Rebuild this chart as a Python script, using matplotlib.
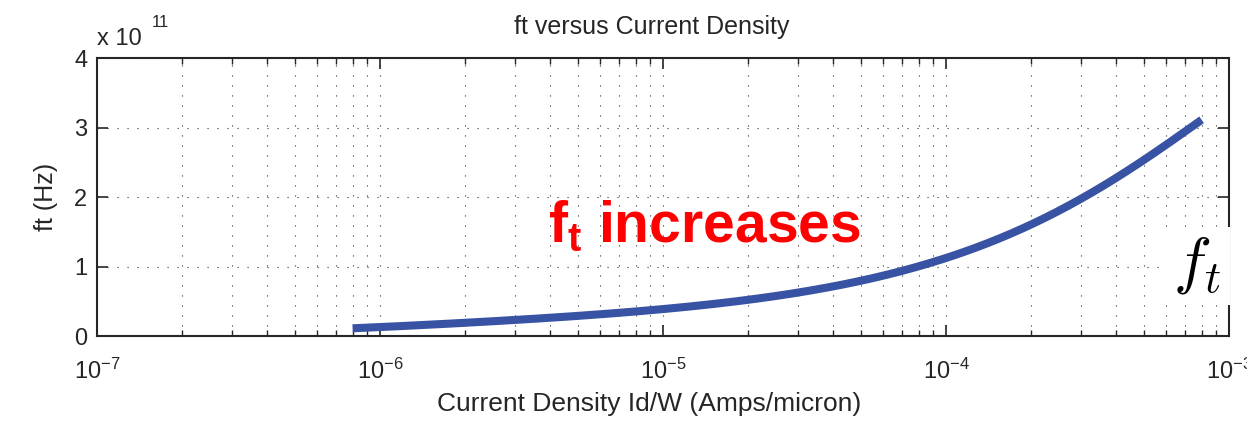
import matplotlib
matplotlib.use('Agg')
import numpy as np
import matplotlib.pyplot as plt
from matplotlib.ticker import LogLocator, FuncFormatter, NullFormatter
from numpy.polynomial import polynomial as P

plt.rcParams['font.family'] = ['Liberation Sans', 'DejaVu Sans']
plt.rcParams['mathtext.fontset'] = 'custom'
plt.rcParams['mathtext.rm'] = 'Liberation Sans'
plt.rcParams['mathtext.bf'] = 'Liberation Sans:bold'
plt.rcParams['mathtext.it'] = 'Liberation Sans:italic'
plt.rcParams['axes.unicode_minus'] = True

# current density (A/micron) and ft (Hz)
current_density = [8e-7, 1e-6, 2e-6, 5e-6, 1e-5, 2e-5, 3e-5, 5e-5,
                   1e-4, 2e-4, 3e-4, 5e-4, 8e-4]
ft_hz = [0.11e11, 0.13e11, 0.19e11, 0.29e11, 0.38e11, 0.52e11, 0.64e11,
         0.82e11, 1.06e11, 1.63e11, 1.96e11, 2.60e11, 3.07e11]

# smooth fit through the read points (log x, log y)
lx = np.log10(current_density)
coef = P.polyfit(lx, np.log(ft_hz), 4)
xs = np.linspace(lx[0], lx[-1], 300)
ys = np.exp(P.polyval(xs, coef))

fig = plt.figure(figsize=(12.47, 4.25), dpi=100)
ax = fig.add_axes([0.0778, 0.2094, 0.9078, 0.6541])

ax.semilogx(10 ** xs, ys, color='#3953A4', lw=5.8, solid_capstyle='butt')

ax.set_xlim(1e-7, 1e-3)
ax.set_ylim(0, 4e11)
ax.set_yticks([0, 1e11, 2e11, 3e11, 4e11])
ax.yaxis.set_major_formatter(FuncFormatter(lambda v, p: '%d' % round(v / 1e11)))
ax.xaxis.set_major_locator(LogLocator(base=10, numticks=10))
ax.xaxis.set_minor_locator(LogLocator(base=10, subs=np.arange(2, 10), numticks=20))
ax.xaxis.set_minor_formatter(NullFormatter())

ax.grid(True, which='major', axis='both', color='#333333', lw=0.8, linestyle=(0, (1, 8)))
ax.grid(True, which='minor', axis='x', color='#333333', lw=0.8, linestyle=(0, (1, 8)))

ax.tick_params(which='both', direction='in', top=True, right=True,
               labelsize=17, colors='#262626')
ax.tick_params(axis='x', which='major', pad=16)
ax.tick_params(axis='y', which='major', pad=7)
ax.tick_params(which='major', length=8, width=1.2)
ax.tick_params(which='minor', length=4, width=1.0)
for s in ax.spines.values():
    s.set_color('#262626')
    s.set_linewidth(1.5)

ax.set_xlabel('Current Density Id/W (Amps/micron)', fontsize=19, color='#262626', labelpad=6)
ax.xaxis.set_label_coords(0.488, -0.2, transform=ax.transAxes)
ax.xaxis.label.set_va('top')
ax.set_ylabel('ft (Hz)', fontsize=18, color='#262626', labelpad=12)
ax.set_title('ft versus Current Density', fontsize=18, color='#262626', pad=17, x=0.49)

ax.text(0.0, 1.047, 'x 10', transform=ax.transAxes, fontsize=17,
        color='#262626', ha='left', va='baseline')
ax.text(0.048, 1.112, '11', transform=ax.transAxes, fontsize=12,
        color='#262626', ha='left', va='baseline')

ax.text(0.398, 0.338, r'$\mathbf{f_t}$ increases', transform=ax.transAxes,
        fontsize=41, fontweight='bold', color='#FF0000', ha='left', va='baseline')

ax.text(0.972, 0.252, r'$f_t$', transform=ax.transAxes, fontsize=46,
        math_fontfamily='cm', color='black', ha='center', va='center',
        bbox=dict(facecolor='white', edgecolor='none', pad=6), clip_on=False, zorder=5)

fig.savefig('out.png', dpi=100)
